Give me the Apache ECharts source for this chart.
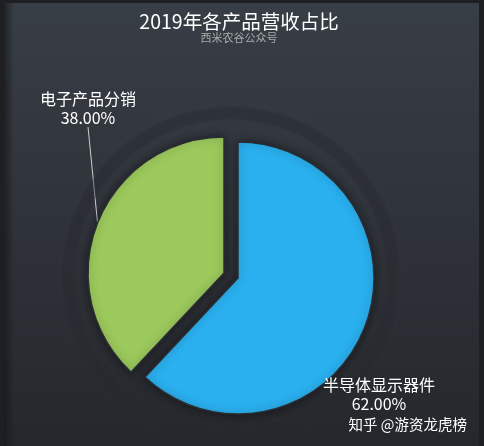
<!DOCTYPE html>
<html>
<head>
<meta charset="utf-8">
<script src="https://cdn.jsdelivr.net/npm/echarts@6/dist/echarts.min.js"></script>
<style>
html,body{margin:0;padding:0;background:#1d1f23;}
#main{position:absolute;left:4px;top:3px;width:475px;height:443px;}
</style>
</head>
<body>
<div id="main"></div>
<script>
const titleText = '2019年各产品营收占比';
const subtitleText = '西米农谷公众号';
const categories = ['半导体显示器件', '电子产品分销'];
const values = [62, 38];
const colors = ['#2ab0ef', '#9cc95c'];
const watermark = '知乎 @游资龙虎榜';

const chart = echarts.init(document.getElementById('main'));
const total = values.reduce((a, b) => a + b, 0);
const labelPos = [
  { x: 375, y: 372, align: 'center', verticalAlign: 'top' },
  { x: 84, y: 86, align: 'center', verticalAlign: 'top' }
];
const centers = [[234, 275], [220, 270]];

function sliceSeries(k) {
  return {
    type: 'pie', center: centers[k], radius: [0, 136],
    startAngle: 90, clockwise: true,
    avoidLabelOverlap: false,
    selectedMode: false,
    emphasis: { disabled: true },
    label: {
      color: '#ffffff', fontSize: 16, fontFamily: 'Noto Sans CJK SC', lineHeight: 19, align: 'center',
      formatter: p => p.name + '\n' + (p.value / total * 100).toFixed(2) + '%'
    },
    labelLine: { show: k === 1, length: 10, length2: 0, lineStyle: { color: '#cfcfcf', width: 1 } },
    labelLayout: p => (p.dataIndex === k ? labelPos[k] : {}),
    data: categories.map((c, i) => i === k ? {
      name: c, value: values[i],
      itemStyle: { color: colors[i], borderColor: '#2b2e34', borderWidth: 1.5, shadowBlur: 8, shadowColor: 'rgba(0,0,0,0.45)' }
    } : {
      name: c, value: values[i],
      itemStyle: { color: 'rgba(0,0,0,0)' },
      label: { show: false }, labelLine: { show: false }
    })
  };
}

chart.setOption({
  animation: false,
  backgroundColor: {
    type: 'linear', x: 0, y: 0, x2: 0, y2: 1,
    colorStops: [{ offset: 0, color: '#383e46' }, { offset: 1, color: '#25272c' }]
  },
  title: {
    text: titleText, subtext: subtitleText,
    left: 230, top: 4, textAlign: 'center', itemGap: 1,
    textStyle: { color: '#ffffff', fontSize: 19.5, fontWeight: 'normal', fontFamily: 'Noto Sans CJK SC' },
    subtextStyle: { color: '#aaaaaa', fontSize: 11, fontFamily: 'Noto Sans CJK SC' }
  },
  graphic: [
    { type: 'rect', left: 0, top: 0, shape: { width: 10, height: 443 }, silent: true,
      style: { fill: { type: 'linear', x: 0, y: 0, x2: 1, y2: 0,
        colorStops: [{ offset: 0, color: 'rgba(20,22,26,0.7)' }, { offset: 1, color: 'rgba(20,22,26,0)' }] } } },
    { type: 'text', right: 12, bottom: 14, silent: true,
      style: { text: watermark, fill: '#ffffff', font: '14.5px "Noto Sans CJK SC"',
        shadowColor: 'rgba(0,0,0,0.6)', shadowBlur: 2 } }
  ],
  series: [
    {
      type: 'pie', silent: true, center: [227, 272], radius: [156, 168],
      label: { show: false }, labelLine: { show: false },
      itemStyle: { color: 'rgba(40,43,50,0.35)', shadowBlur: 4, shadowColor: 'rgba(30,32,38,0.3)' },
      data: [{ value: 1, name: 'ring' }]
    },
    sliceSeries(0),
    sliceSeries(1)
  ]
});
</script>
</body>
</html>
